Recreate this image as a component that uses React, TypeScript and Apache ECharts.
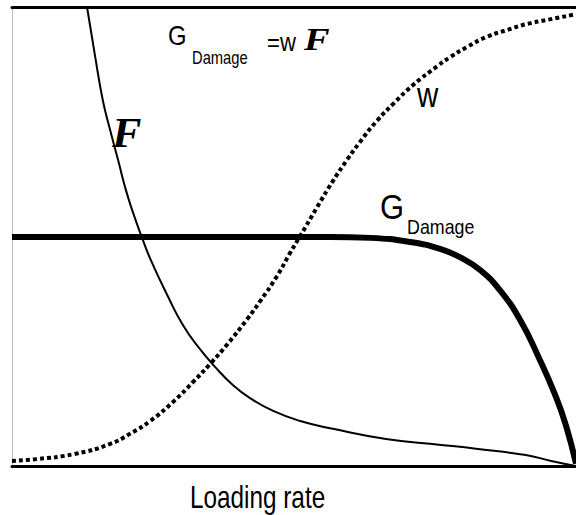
import React, { useEffect, useRef } from "react";
import * as echarts from "echarts";

// Loading rate (normalised 0-100) and normalised ordinate values
const fRate = [13.3, 14.7, 16.1, 17.4, 18.8, 20.2, 21.6, 23.0, 24.6, 27.5, 30.3, 33.3, 36.0, 39.2, 42.2, 46.3, 51.1, 56.9, 66.3, 76.1, 82.6, 91.1, 95.6, 100];
const fValue = [100, 89.5, 79.7, 73.2, 66.7, 60.1, 54.7, 49.9, 44.9, 37.3, 30.7, 25.5, 21.6, 17.6, 14.8, 12.0, 9.8, 8.1, 5.9, 4.6, 3.7, 2.4, 1.1, 0];

const gRate = [0, 56.4, 63.5, 70.6, 75.9, 79.4, 83.0, 86.5, 90.1, 93.6, 96.3, 98.2, 100];
const gValue = [49.9, 49.9, 49.7, 48.8, 47.3, 45.5, 42.7, 38.3, 31.8, 23.1, 15.5, 8.9, 0.5];

const wRate = [0, 4.4, 11.0, 17.4, 20.9, 24.5, 28.5, 32.1, 35.1, 38.1, 41.7, 44.0, 47.0, 49.3, 51.1, 54.1, 56.9, 59.4, 61.7, 64.7, 67.6, 71.1, 75.4, 77.7, 80.7, 84.2, 87.8, 91.3, 94.9, 99.5];
const wValue = [1.1, 1.5, 2.6, 4.8, 7.0, 9.8, 13.9, 18.3, 22.2, 26.4, 32.0, 35.9, 41.4, 46.4, 50.1, 56.4, 62.1, 66.7, 70.6, 75.2, 78.9, 83.0, 87.1, 89.1, 91.3, 93.5, 95.0, 96.3, 97.2, 98.3];

const xAxisName = "Loading rate";

const pairs = (xs: number[], ys: number[]) => xs.map((x, i) => [x, ys[i]]);

const SANS = "'Liberation Sans', Arial, sans-serif";
const SERIF = "'Liberation Serif', 'Times New Roman', serif";

// baseline-based text helper (middle alignment, central baseline ~0.31em above alphabetic)
const txt = (text: string, x: number, baseline: number, size: number, family: string, scaleX: number, extra = "") => ({
  type: "text",
  x,
  y: baseline - 0.31 * size,
  scaleX,
  style: {
    text,
    font: `${extra}${size}px ${family}`,
    fill: "#000",
    align: "left",
    verticalAlign: "middle",
  },
});

export default function App() {
  const ref = useRef<HTMLDivElement>(null);
  useEffect(() => {
    if (!ref.current) return;
    const chart = echarts.init(ref.current, null, { renderer: "svg" });
    const hiddenAxis = {
      axisTick: { show: false },
      axisLabel: { show: false },
      splitLine: { show: false },
    };
    chart.setOption({
      animation: false,
      backgroundColor: "#ffffff",
      grid: { left: 12, right: 0, top: 7, bottom: 49 },
      xAxis: [
        {
          type: "value",
          min: 0,
          max: 100,
          position: "bottom",
          axisLine: { show: true, lineStyle: { color: "#000", width: 3 } },
          ...hiddenAxis,
        },
        {
          type: "value",
          min: 0,
          max: 100,
          position: "top",
          axisLine: { show: true, onZero: false, lineStyle: { color: "#000", width: 3 } },
          ...hiddenAxis,
        },
      ],
      yAxis: {
        type: "value",
        min: 0,
        max: 100,
        axisLine: { show: true, lineStyle: { color: "#bdbdbd", width: 1 } },
        ...hiddenAxis,
      },
      series: [
        {
          name: "F",
          type: "line",
          data: pairs(fRate, fValue),
          showSymbol: false,
          smooth: 0.5,
          lineStyle: { color: "#000", width: 2 },
        },
        {
          name: "G Damage",
          type: "line",
          data: pairs(gRate, gValue),
          showSymbol: false,
          smooth: 0.5,
          lineStyle: { color: "#000", width: 6, cap: "butt" },
        },
        {
          name: "w",
          type: "line",
          data: pairs(wRate, wValue),
          showSymbol: false,
          smooth: 0.5,
          lineStyle: { color: "#000", width: 4, type: [4, 3], cap: "butt" },
        },
      ],
      graphic: [
        txt("G", 168, 44, 28, SANS, 0.85),
        txt("Damage", 192, 63, 18, SANS, 0.82),
        txt("=w", 267, 50, 26, SANS, 0.85),
        txt("F", 304, 50, 32, SERIF, 1.2, "italic bold "),
        txt("F", 112, 146, 42, SERIF, 1.05, "italic bold "),
        txt("w", 417, 106, 36, SANS, 0.82),
        txt("G", 380, 218, 36, SANS, 0.86),
        txt("Damage", 407, 233, 21, SANS, 0.85),
        txt(xAxisName, 190, 507, 32, SANS, 0.76),
      ],
    });
    return () => chart.dispose();
  }, []);
  return <div ref={ref} style={{ width: 576, height: 515, position: "absolute", left: 0, top: 0 }} />;
}
